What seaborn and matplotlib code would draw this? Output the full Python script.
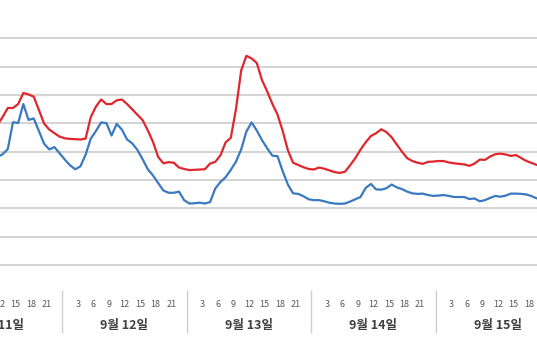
import numpy as np
import pandas as pd
import matplotlib
matplotlib.use("Agg")
import matplotlib.pyplot as plt
import seaborn as sns

# hourly records, first one is 9/11 11:00 (hours counted from 9/11 00:00)
hours = list(range(11, 116))

red = [49.4, 52.2, 55.4, 55.4, 56.8, 60.7, 60.2, 59.4, 54.7, 49.9,
       47.8, 46.5, 45.3, 44.7, 44.5, 44.4, 44.3, 44.6, 52.2, 55.9,
       58.4, 56.8, 56.8, 58.1, 58.4, 56.8, 54.9, 53.0, 51.1, 47.5,
       43.4, 38.1, 35.9, 36.3, 36.1, 34.4, 33.9, 33.5, 33.6, 33.7,
       33.8, 35.8, 36.4, 38.7, 43.3, 44.9, 55.1, 68.7, 73.8, 72.9,
       71.3, 65.3, 61.3, 56.9, 53.1, 47.3, 40.5, 36.1, 35.3, 34.5,
       33.9, 33.7, 34.4, 34.0, 33.4, 32.8, 32.5, 32.9, 35.2, 37.7,
       40.7, 43.3, 45.5, 46.5, 47.9, 46.9, 45.1, 42.5, 40.0, 37.7,
       36.7, 36.1, 35.7, 36.4, 36.5, 36.7, 36.7, 36.2, 35.9, 35.7,
       35.5, 35.0, 35.8, 37.2, 37.1, 38.3, 39.1, 39.3, 39.0, 38.5,
       38.8, 37.7, 36.7, 36.0, 35.3]

blue = [38.1, 39.1, 40.9, 50.4, 50.1, 56.8, 51.2, 51.7, 47.3, 42.8,
        40.8, 41.6, 39.4, 37.2, 35.2, 33.8, 34.8, 38.9, 44.6, 47.3,
        50.3, 50.1, 45.7, 49.8, 47.8, 44.3, 42.9, 40.6, 37.3, 33.8,
        31.6, 28.9, 26.3, 25.5, 25.5, 25.9, 22.9, 21.7, 21.8, 22.0,
        21.7, 22.2, 27.0, 29.3, 31.0, 33.6, 36.5, 40.8, 47.1, 50.3,
        47.5, 44.1, 41.2, 38.6, 38.4, 33.1, 28.4, 25.3, 25.1, 24.3,
        23.2, 22.9, 22.9, 22.5, 22.0, 21.7, 21.6, 21.7, 22.4, 23.2,
        24.0, 27.2, 28.6, 26.7, 26.6, 27.1, 28.4, 27.4, 26.8, 25.9,
        25.3, 25.1, 25.2, 24.7, 24.4, 24.5, 24.7, 24.4, 24.0, 24.0,
        24.0, 23.3, 23.5, 22.5, 22.9, 23.7, 24.4, 24.1, 24.5, 25.2,
        25.2, 25.1, 24.9, 24.3, 23.5]

day_labels = ["9월 11일", "9월 12일", "9월 13일", "9월 14일", "9월 15일"]
hour_labels = [3, 6, 9, 12, 15, 18, 21]

df = pd.DataFrame({"hour": np.array(hours) + 0.5, "red": red, "blue": blue})

sns.set_style("white")
plt.rcParams["font.family"] = ["Noto Sans CJK KR", "DejaVu Sans"]

fig = plt.figure(figsize=(5.37, 3.6), dpi=100)
ax = fig.add_axes([0, 0.185, 1, 0.815])

sns.lineplot(data=df, x="hour", y="red", color="#e0262d", lw=1.6, ax=ax)
sns.lineplot(data=df, x="hour", y="blue", color="#3a79c0", lw=1.6, ax=ax)

ax.set_xlim(12.06, 115.53)
ax.set_ylim(-10, 93.5)
ax.set_yticks(range(0, 81, 10))
ax.set_yticklabels([])
ax.yaxis.grid(True, color="#c8c8c8", lw=1.1)
ax.tick_params(axis="y", length=0)
ax.set_xlabel("")
ax.set_ylabel("")
sns.despine(ax=ax, left=True, bottom=True)

# hourly ticks, labels every 3 hours
tick_pos = list(range(12, 116))
tick_txt = [str(h % 24) if (h % 24) in hour_labels else "" for h in tick_pos]
ax.set_xticks(tick_pos)
ax.set_xticklabels(tick_txt)
ax.tick_params(axis="x", direction="inout", length=5, width=0.8,
               color="#cfcfcf", labelsize=6.5, labelcolor="#595959", pad=2)

# day separators and day names
day_starts = [0, 24, 48, 72, 96]
ax.vlines(day_starts[1:], -0.135, 0.012, transform=ax.get_xaxis_transform(),
          clip_on=False, color="#d0d0d0", lw=1)
for start, lab in zip(day_starts, day_labels):
    ax.text(start + 12, -0.11, lab, transform=ax.get_xaxis_transform(),
            ha="center", va="center", fontsize=9, fontweight="bold",
            color="#404040")

fig.savefig("out.png", dpi=100)
